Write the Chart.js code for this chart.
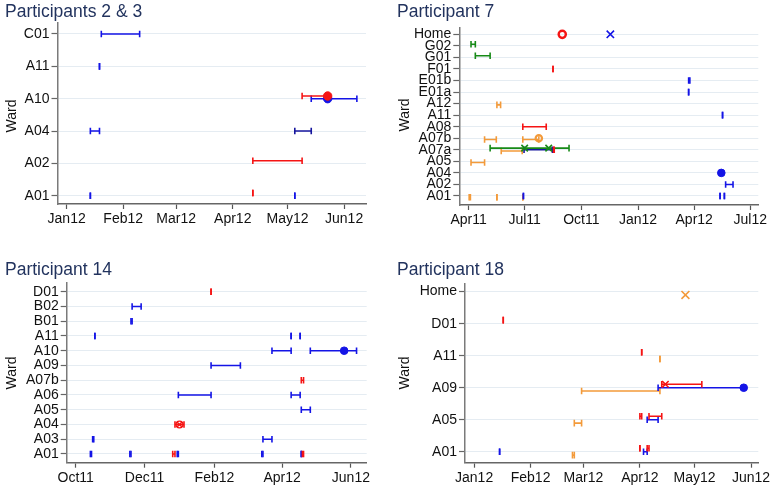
<!DOCTYPE html>
<html><head><meta charset="utf-8">
<script src="https://cdn.jsdelivr.net/npm/chart.js@4/dist/chart.umd.min.js"></script>
<style>
html,body{margin:0;padding:0;background:#fff;}
#wrap{position:relative;width:773px;height:489px;overflow:hidden;font-family:'Liberation Sans',Arial,sans-serif;}
canvas{position:absolute;}
.title{position:absolute;font-size:17.5px;line-height:17px;color:#22335e;white-space:nowrap;}
.ytitle{position:absolute;font-size:14px;line-height:14px;color:#111;transform:translate(-50%,-50%) rotate(-90deg);white-space:nowrap;}
</style></head>
<body>
<div id="wrap">
  <canvas id="c1" width="386" height="240" style="left:0;top:0;width:386px;height:240px"></canvas>
  <canvas id="c2" width="387" height="240" style="left:386px;top:0;width:387px;height:240px"></canvas>
  <canvas id="c3" width="386" height="249" style="left:0;top:240px;width:386px;height:249px"></canvas>
  <canvas id="c4" width="387" height="249" style="left:386px;top:240px;width:387px;height:249px"></canvas>
  <div class="title" style="left:5px;top:2.5px">Participants 2 &amp; 3</div>
  <div class="title" style="left:397px;top:2.5px">Participant 7</div>
  <div class="title" style="left:5px;top:260.5px">Participant 14</div>
  <div class="title" style="left:397px;top:260.5px">Participant 18</div>
  <div class="ytitle" style="left:11px;top:116px">Ward</div>
  <div class="ytitle" style="left:404px;top:115px">Ward</div>
  <div class="ytitle" style="left:11px;top:373px">Ward</div>
  <div class="ytitle" style="left:404px;top:373px">Ward</div>
</div>
<script>
// ---------------- DATA ----------------
// Panel 1: Participants 2 & 3
const p1Wards = ['A01','A02','A04','A10','A11','C01'];
const p1Months = ['2012-01-01','2012-02-01','2012-03-01','2012-04-01','2012-05-01','2012-06-01'];
const p1MonthLabels = ['Jan12','Feb12','Mar12','Apr12','May12','Jun12'];
const p1Blue = [['C01','2012-01-20','2012-02-10'],['A11','2012-01-19','2012-01-19'],['A10','2012-05-14','2012-06-08'],
  ['A04','2012-01-14','2012-01-19'],['A01','2012-01-14','2012-01-14'],['A01','2012-05-05','2012-05-05']];
const p1Navy = [['A04','2012-05-05','2012-05-14']];
const p1Red = [['A10','2012-05-09','2012-05-23'],['A02','2012-04-12','2012-05-09'],['A01','2012-04-12','2012-04-12']];
const p1BlueDots = [['A10','2012-05-23']];
const p1RedDots = [['A10','2012-05-23']];

// Panel 2: Participant 7
const p2Wards = ['A01','A02','A04','A05','A07a','A07b','A08','A11','A12','E01a','E01b','F01','G01','G02','Home'];
const p2Months = ['2011-04-01','2011-07-01','2011-10-01','2012-01-01','2012-04-01','2012-07-01'];
const p2MonthLabels = ['Apr11','Jul11','Oct11','Jan12','Apr12','Jul12'];
const p2Green = [['G02','2011-04-05','2011-04-12'],['G01','2011-04-12','2011-05-06'],['A07a','2011-05-06','2011-09-11']];
const p2GreenX = [['A07a','2011-07-01'],['A07a','2011-08-09']];
const p2Red = [['F01','2011-08-16','2011-08-16'],['A08','2011-06-28','2011-08-05'],['A07a','2011-08-17','2011-08-18']];
const p2RedRing = [['Home','2011-08-31']];
const p2Blue = [['E01b','2012-03-23','2012-03-25'],['E01a','2012-03-23','2012-03-23'],['A11','2012-05-17','2012-05-17'],
  ['A02','2012-05-22','2012-06-03'],['A01','2012-05-13','2012-05-13'],['A01','2012-05-20','2012-05-20'],['A01','2011-06-29','2011-06-29']];
const p2Navy = [['A07a','2011-06-30','2011-08-15']];
const p2BlueX = [['Home','2011-11-17']];
const p2BlueDots = [['A04','2012-05-15']];
const p2Orange = [['A12','2011-05-17','2011-05-23'],['A07b','2011-04-27','2011-05-16'],['A07b','2011-06-28','2011-07-24'],
  ['A07a','2011-05-24','2011-06-27'],['A05','2011-04-05','2011-04-27'],['A01','2011-04-02','2011-04-04'],
  ['A01','2011-05-17','2011-05-17'],['A01','2011-06-28','2011-06-28']];
const p2OrangeRing = [['A07b','2011-07-24']];

// Panel 3: Participant 14
const p3Wards = ['A01','A03','A04','A05','A06','A07b','A09','A10','A11','B01','B02','D01'];
const p3Months = ['2011-10-01','2011-12-01','2012-02-01','2012-04-01','2012-06-01'];
const p3MonthLabels = ['Oct11','Dec11','Feb12','Apr12','Jun12'];
const p3Blue = [['B02','2011-11-20','2011-11-28'],['B01','2011-11-19','2011-11-20'],['A11','2011-10-18','2011-10-18'],
  ['A11','2012-04-09','2012-04-09'],['A11','2012-04-17','2012-04-17'],['A10','2012-03-23','2012-04-09'],
  ['A10','2012-04-26','2012-06-06'],['A09','2012-01-29','2012-02-24'],['A06','2011-12-31','2012-01-29'],
  ['A06','2012-04-09','2012-04-17'],['A05','2012-04-18','2012-04-26'],['A03','2011-10-16','2011-10-17'],
  ['A03','2012-03-15','2012-03-23'],['A01','2011-10-14','2011-10-15'],['A01','2011-11-18','2011-11-19'],
  ['A01','2011-12-30','2011-12-31'],['A01','2012-03-14','2012-03-15'],['A01','2012-04-18','2012-04-18']];
const p3BlueDots = [['A10','2012-05-26']];
const p3Red = [['D01','2012-01-29','2012-01-29'],['A07b','2012-04-18','2012-04-20'],['A04','2011-12-28','2012-01-05'],
  ['A01','2011-12-26','2011-12-28'],['A01','2012-04-19','2012-04-20']];
const p3RedX = [['A04','2012-01-01']];
const p3RedRing = [['A04','2012-01-01']];

// Panel 4: Participant 18
const p4Wards = ['A01','A05','A09','A11','D01','Home'];
const p4Months = ['2012-01-01','2012-02-01','2012-03-01','2012-04-01','2012-05-01','2012-06-01'];
const p4MonthLabels = ['Jan12','Feb12','Mar12','Apr12','May12','Jun12'];
const p4Red = [['D01','2012-01-17','2012-01-17'],['A11','2012-04-02','2012-04-02'],['A09','2012-04-13','2012-05-05'],
  ['A05','2012-04-01','2012-04-02'],['A05','2012-04-06','2012-04-13'],['A01','2012-04-01','2012-04-01'],['A01','2012-04-05','2012-04-06']];
const p4RedX = [['A09','2012-04-15']];
const p4Blue = [['A09','2012-04-11','2012-05-28'],['A05','2012-04-05','2012-04-11'],['A01','2012-01-15','2012-01-15'],['A01','2012-04-03','2012-04-05']];
const p4BlueDots = [['A09','2012-05-28']];
const p4Orange = [['A11','2012-04-12','2012-04-12'],['A09','2012-02-29','2012-04-12'],['A05','2012-02-25','2012-02-29'],['A01','2012-02-24','2012-02-25']];
const p4OrangeX = [['Home','2012-04-26']];

// ---------------- RENDERING ----------------
const FONT = "'Liberation Sans', Arial, sans-serif";
const COL = {blue:'#1414e6', navy:'#16169e', red:'#f51414', green:'#178a17', orange:'#f39a3a'};
const D = s => Date.UTC(+s.slice(0,4), +s.slice(5,7)-1, +s.slice(8,10)) / 86400000;

function intervals(list, wards, color, dy) {
  const data = [];
  list.forEach(([w, s, e]) => {
    const y = wards.indexOf(w) + dy;
    data.push({x: D(s), y}, {x: D(e), y}, {x: D(e), y: null});
  });
  return {data, showLine: true, spanGaps: false, borderColor: color, borderWidth: 1.6,
    pointStyle: 'line', pointRotation: 90, pointRadius: 3.3, pointHoverRadius: 3.3,
    pointBorderColor: color, pointBorderWidth: 1.6, pointBackgroundColor: color};
}
function markers(list, wards, dy, style) {
  return Object.assign({data: list.map(([w, d]) => ({x: D(d), y: wards.indexOf(w) + dy})), showLine: false}, style);
}
const dot = (c, r) => ({pointStyle: 'circle', pointRadius: r, pointBackgroundColor: c, pointBorderColor: c, pointBorderWidth: 1});
const ring = (c, r, bw) => ({pointStyle: 'circle', pointRadius: r, pointBackgroundColor: 'rgba(255,255,255,0)', pointBorderColor: c, pointBorderWidth: bw || 2.2});
const cross = (c, r) => ({pointStyle: 'crossRot', pointRadius: r, pointBorderColor: c, pointBorderWidth: 1.6});

function makeChart(id, p) {
  const cv = document.getElementById(id);
  const W = cv.width, H = cv.height;
  const yWidth = p.area[0], xHeight = H - p.area[3];
  new Chart(cv, {
    type: 'scatter',
    data: {datasets: p.datasets},
    options: {
      responsive: false, animation: false, events: [],
      layout: {padding: {left: 0, top: p.area[1], right: W - p.area[2], bottom: 0}},
      plugins: {legend: {display: false}, tooltip: {enabled: false}, title: {display: false}},
      scales: {
        x: {
          type: 'linear', min: D(p.range[0]), max: D(p.range[1]),
          afterBuildTicks: s => { s.ticks = p.months.map(m => ({value: D(m)})); },
          afterFit: s => { s.height = xHeight; },
          ticks: {autoSkip: false, maxRotation: 0, minRotation: 0, padding: 2, color: '#111',
            font: {family: FONT, size: 14}, callback: (v, i) => p.monthLabels[i]},
          grid: {drawOnChartArea: false, drawTicks: true, tickLength: 5, tickColor: '#555', tickWidth: 1.2},
          border: {display: true, color: '#666', width: 1.5}
        },
        y: {
          type: 'linear', min: p.yRange[0], max: p.yRange[1],
          afterBuildTicks: s => { s.ticks = p.wards.map((w, i) => ({value: i})); },
          afterFit: s => { s.width = yWidth; },
          ticks: {autoSkip: false, padding: 2, color: '#111', font: {family: FONT, size: 14},
            callback: (v, i) => p.wards[i]},
          grid: {color: '#e5ecf2', lineWidth: 1, drawTicks: true, tickLength: 6, tickColor: '#666', tickWidth: 1.2},
          border: {display: true, color: '#7a7a7a', width: 1.5}
        }
      }
    }
  });
}

// Panel 1
(function(){
  const r = 32.4, w = p1Wards;
  makeChart('c1', {wards: w, months: p1Months, monthLabels: p1MonthLabels,
    range: ['2011-12-27','2012-06-13'], yRange: [-0.256, 5.34], area: [57.5, 23, 366, 204],
    datasets: [
      markers(p1RedDots, w, 2.7/r, dot(COL.red, 4.2)),
      markers(p1BlueDots, w, 0, dot(COL.blue, 4.2)),
      intervals(p1Red, w, COL.red, 2.7/r),
      intervals(p1Navy, w, COL.navy, 0),
      intervals(p1Blue, w, COL.blue, 0)
    ]});
})();
// Panel 2
(function(){
  const r = 11.55, w = p2Wards;
  makeChart('c2', {wards: w, months: p2Months, monthLabels: p2MonthLabels,
    range: ['2011-03-17','2012-07-14'], yRange: [-0.78, 14.55], area: [73.3, 28, 372.3, 205],
    datasets: [
      markers(p2GreenX, w, 1.7/r, cross(COL.green, 4.6)),
      markers(p2RedRing, w, 0, ring(COL.red, 3.6, 2.4)),
      markers(p2BlueX, w, 0, cross(COL.blue, 5.2)),
      markers(p2BlueDots, w, 0, dot(COL.blue, 3.8)),
      markers(p2OrangeRing, w, 0, ring(COL.orange, 3.2, 2.2)),
      intervals(p2Red, w, COL.red, 0),
      intervals(p2Navy, w, COL.navy, 0),
      intervals(p2Blue, w, COL.blue, 0),
      intervals(p2Green, w, COL.green, 1.7/r),
      intervals(p2Orange, w, COL.orange, -1.2/r)
    ]});
})();
// Panel 3
(function(){
  const r = 14.75, w = p3Wards;
  makeChart('c3', {wards: w, months: p3Months, monthLabels: p3MonthLabels,
    range: ['2011-09-23','2012-06-15'], yRange: [-0.59, 11.59], area: [66.7, 43, 366.7, 222.7],
    datasets: [
      markers(p3BlueDots, w, 0, dot(COL.blue, 3.8)),
      markers(p3RedX, w, 0, cross(COL.red, 3.6)),
      markers(p3RedRing, w, 0, ring(COL.red, 3.4, 1.3)),
      intervals(p3Red, w, COL.red, 0),
      intervals(p3Blue, w, COL.blue, 0)
    ]});
})();
// Panel 4
(function(){
  const r = 32, w = p4Wards;
  makeChart('c4', {wards: w, months: p4Months, monthLabels: p4MonthLabels,
    range: ['2011-12-27','2012-06-05'], yRange: [-0.34, 5.26], area: [79, 43.3, 372.3, 222.7],
    datasets: [
      markers(p4BlueDots, w, 0, dot(COL.blue, 3.8)),
      markers(p4RedX, w, 3.5/r, cross(COL.red, 4.6)),
      markers(p4OrangeX, w, -3.3/r, cross(COL.orange, 5.6)),
      intervals(p4Red, w, COL.red, 3.5/r),
      intervals(p4Blue, w, COL.blue, 0),
      intervals(p4Orange, w, COL.orange, -3.3/r)
    ]});
})();
</script>
</body></html>
